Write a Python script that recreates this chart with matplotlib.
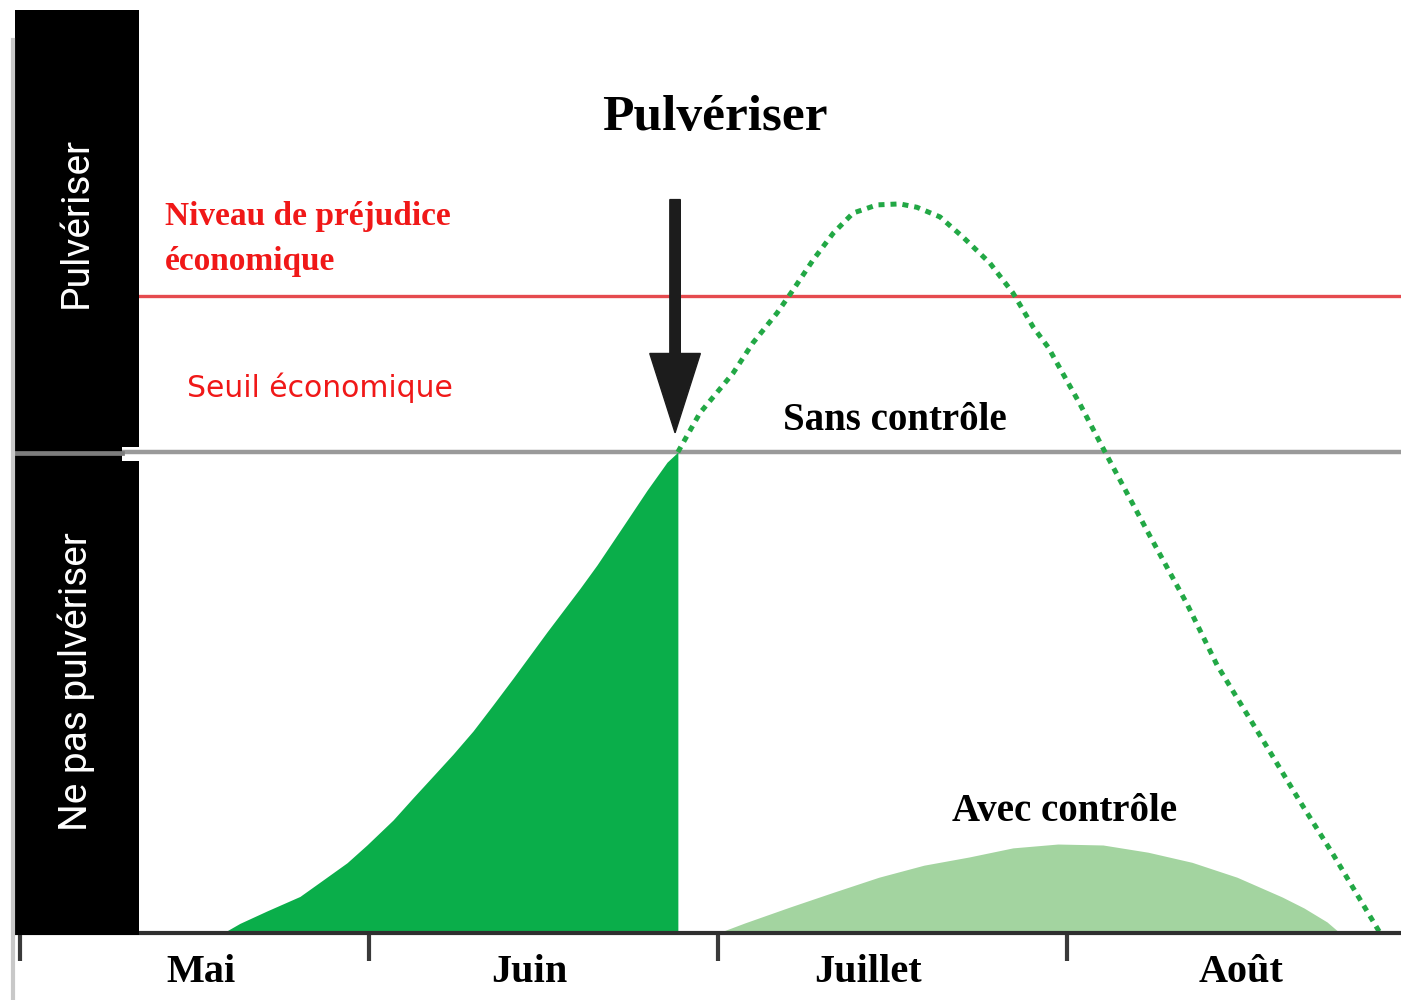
import matplotlib.pyplot as plt
from matplotlib.patches import Rectangle, FancyArrow
from matplotlib.lines import Line2D
import numpy as np

# months on the x axis (1 unit = 1 month), pest density on y
months = ['Mai', 'Juin', 'Juillet', 'Août']
month_bounds = [0, 1, 2, 3]
label_pos = [0.52, 1.46, 2.43, 3.50]

seuil_eco = 10.0          # seuil économique
niveau_prejudice = 13.24  # niveau de préjudice économique
spray_x = 1.885           # date du traitement

# population sans contrôle
sans_x = [0.582, 0.630, 0.708, 0.802, 0.860, 0.937, 0.994, 1.069, 1.126, 1.183,
          1.241, 1.298, 1.355, 1.413, 1.510, 1.605, 1.653, 1.728, 1.797, 1.854,
          1.885, 1.948, 2.043, 2.100, 2.169, 2.215, 2.272, 2.330, 2.387, 2.456,
          2.521, 2.570, 2.636, 2.702, 2.779, 2.845, 2.903, 2.946, 3.037, 3.109,
          3.238, 3.344, 3.430, 3.573, 3.667, 3.762, 3.897]
sans_y = [0.0, 0.20, 0.46, 0.76, 1.06, 1.46, 1.83, 2.35, 2.81, 3.26,
          3.72, 4.20, 4.74, 5.30, 6.26, 7.17, 7.65, 8.46, 9.21, 9.79,
          10.0, 10.81, 11.64, 12.27, 12.89, 13.37, 13.99, 14.55, 14.97, 15.14,
          15.16, 15.09, 14.89, 14.47, 13.93, 13.31, 12.60, 12.18, 11.00, 10.0,
          8.25, 6.84, 5.57, 3.87, 2.74, 1.64, 0.0]

# population avec contrôle
avec_x = [2.000, 2.077, 2.206, 2.332, 2.461, 2.590, 2.719, 2.845, 2.974, 3.103,
          3.232, 3.358, 3.487, 3.616, 3.679, 3.745, 3.782]
avec_y = [0.0, 0.21, 0.54, 0.85, 1.16, 1.41, 1.58, 1.77, 1.85, 1.83,
          1.68, 1.47, 1.16, 0.75, 0.52, 0.23, 0.0]

W, H = 1401, 1000

def fx(px):
    return px / W

def fy(py):
    return 1 - py / H

fig = plt.figure(figsize=(14.01, 10), dpi=100)
ax = fig.add_axes([fx(15), fy(933), 1 - fx(15), fy(0) - fy(933)])
ax.set_xlim(-0.0143, 3.957)
ax.set_ylim(0, 19.4)

for s in ['top', 'right', 'left']:
    ax.spines[s].set_visible(False)
ax.spines['bottom'].set_linewidth(3)
ax.spines['bottom'].set_color('#2f2f2f')
ax.spines['bottom'].set_zorder(4)

ax.set_yticks([])
ax.set_xticks(month_bounds)
ax.set_xticklabels([])
ax.tick_params(axis='x', which='major', length=20, width=3, color='#3a3a3a', direction='out')
ax.set_xticks(label_pos, minor=True)
ax.set_xticklabels(months, minor=True, fontfamily='Liberation Serif',
                   fontweight='bold', fontsize=29)
ax.tick_params(axis='x', which='minor', length=0, pad=15)

sx = np.array(sans_x)
sy = np.array(sans_y)
before = sx <= spray_x
after = sx >= spray_x

# part of the population before spraying
ax.fill_between(sx[before], 0, sy[before], color='#0aae4a', lw=0, zorder=2)
# without control: dotted continuation
ax.plot(sx[after], sy[after], color='#22a845', lw=3.6, ls=(0, (1.2, 1.2)),
        solid_capstyle='butt', zorder=3)
# with control
ax.fill_between(avec_x, 0, avec_y, color='#a3d4a0', lw=0, zorder=2)

# thresholds
ax.axhline(niveau_prejudice, color='#e54a4e', lw=2.4, zorder=1)
ax.axhline(seuil_eco, color='#9a9a9a', lw=3.2, zorder=1)

# spray arrow
tail = 15.25
tip = seuil_eco + 0.4
ax.add_patch(FancyArrow(spray_x - 0.008, tail, 0, -(tail - tip), width=0.03,
                        head_width=0.145, head_length=1.65, length_includes_head=True,
                        color='#1c1c1c', zorder=5))

serif = 'Liberation Serif'
ax.text(1.99, 16.94, 'Pulvériser', fontfamily=serif, fontweight='bold',
        fontsize=37, ha='center', va='center')
ax.text(2.507, 10.66, 'Sans contrôle', fontfamily=serif, fontweight='bold',
        fontsize=28, ha='center', va='center')
ax.text(2.994, 2.52, 'Avec contrôle', fontfamily=serif, fontweight='bold',
        fontsize=28, ha='center', va='center')
ax.text(0.415, 14.72, 'Niveau de préjudice', fontfamily=serif,
        fontweight='bold', fontsize=24, color='#f01818', ha='left', va='baseline')
ax.text(0.415, 13.78, 'économique', fontfamily=serif,
        fontweight='bold', fontsize=24, color='#f01818', ha='left', va='baseline')
ax.text(0.478, 11.14, 'Seuil économique', fontfamily='DejaVu Sans', fontsize=21.5,
        color='#f01818', ha='left', va='baseline')

# left black panels
ax.add_patch(Rectangle((fx(15), fy(447)), fx(139) - fx(15), fy(10) - fy(447),
                       transform=fig.transFigure, facecolor='black', lw=0,
                       clip_on=False, zorder=6))
ax.add_patch(Rectangle((fx(15), fy(935)), fx(139) - fx(15), fy(461) - fy(935),
                       transform=fig.transFigure, facecolor='black', lw=0,
                       clip_on=False, zorder=6))
ax.add_patch(Rectangle((fx(15), fy(461)), fx(122) - fx(15), fy(447) - fy(461),
                       transform=fig.transFigure, facecolor='black', lw=0,
                       clip_on=False, zorder=6))
ax.add_line(Line2D([fx(15), fx(122)], [fy(453), fy(453)], transform=fig.transFigure,
                   color='#7d7d7d', lw=3.4, clip_on=False, zorder=7))
ax.add_line(Line2D([fx(13), fx(13)], [fy(40), fy(1000)], transform=fig.transFigure,
                   color='#c8c8c8', lw=3, clip_on=False, zorder=7))

fig.text(fx(76), fy(222), 'Pulvériser', rotation=90, color='white',
         fontfamily='Roboto', fontsize=28, ha='center', va='center')
fig.text(fx(76), fy(682), 'Ne pas pulvériser', rotation=90, color='white',
         fontfamily='Roboto', fontsize=28, ha='center', va='center')

fig.savefig('out.png', dpi=100)
